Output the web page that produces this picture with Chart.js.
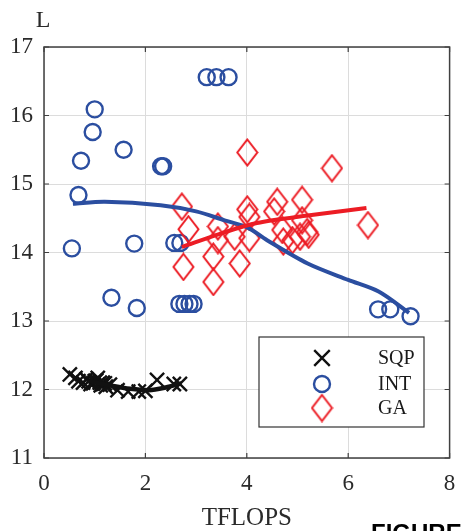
<!DOCTYPE html>
<html>
<head>
<meta charset="utf-8">
<script src="https://cdn.jsdelivr.net/npm/chart.js@4.4.0/dist/chart.umd.min.js"></script>
<style>
  html, body { margin: 0; padding: 0; background: #fff; }
  #wrap { width: 462px; height: 531px; position: relative; }
</style>
</head>
<body>
<div id="wrap"><canvas id="c" width="462" height="531"></canvas></div>
<script>
// Axis ticks
const xTicks = [0, 2, 4, 6, 8];
const yTicks = [11, 12, 13, 14, 15, 16, 17];

// SQP runs
const sqpX = [0.51, 0.62, 0.68, 0.77, 0.84, 0.88, 0.92, 0.97, 1.00, 1.03, 1.06, 1.10, 1.12, 1.16, 1.20, 1.22, 1.30, 1.45, 1.66, 1.87, 2.00, 2.23, 2.56, 2.68];
const sqpY = [12.22, 12.17, 12.12, 12.10, 12.15, 12.12, 12.08, 12.09, 12.12, 12.13, 12.17, 12.10, 12.06, 12.10, 12.09, 12.04, 12.07, 11.99, 11.97, 11.97, 11.98, 12.14, 12.08, 12.08];
const sqpFitX = [0.90, 1.30, 1.70, 2.07, 2.40, 2.71];
const sqpFitY = [12.12, 12.06, 12.01, 11.99, 12.03, 12.09];

// INT runs
const intX = [0.55, 0.68, 0.73, 0.96, 1.00, 1.57, 1.33, 1.78, 1.83, 2.31, 2.35, 2.57, 2.69, 2.67, 2.77, 2.87, 2.95, 3.21, 3.40, 3.64, 6.59, 6.83, 7.23];
const intY = [14.06, 14.84, 15.34, 15.76, 16.09, 15.50, 13.34, 14.13, 13.19, 15.26, 15.26, 14.14, 14.14, 13.25, 13.25, 13.25, 13.25, 16.56, 16.56, 16.56, 13.17, 13.17, 13.07];
const intFitX = [0.57, 1.20, 2.30, 3.00, 3.56, 4.00, 4.40, 5.20, 6.00, 6.60, 7.20];
const intFitY = [14.71, 14.74, 14.69, 14.60, 14.47, 14.37, 14.18, 13.84, 13.60, 13.43, 13.12];

// GA runs
const gaX = [2.72, 2.85, 2.75, 3.43, 3.43, 3.34, 3.34, 3.76, 3.86, 4.01, 4.01, 4.05, 4.05, 4.60, 4.54, 4.70, 4.72, 4.90, 5.09, 5.09, 5.19, 5.05, 5.22, 5.68, 6.39];
const gaY = [14.67, 14.34, 13.79, 14.38, 14.18, 13.94, 13.57, 14.23, 13.84, 15.46, 14.63, 14.52, 14.21, 14.74, 14.60, 14.33, 14.16, 14.18, 14.77, 14.47, 14.30, 14.23, 14.26, 15.23, 14.40];
const gaFitX = [2.72, 3.50, 4.20, 5.20, 6.36];
const gaFitY = [14.08, 14.28, 14.43, 14.54, 14.65];

const seriesNames = ['SQP', 'INT', 'GA'];

const BLUE = '#2b4ea0';
const RED = '#ec1c24';
const BLACK = '#111111';
const SERIF = '"Liberation Serif", "Times New Roman", serif';

const pts = (xs, ys) => xs.map((x, i) => ({ x, y: ys[i] }));

// Tall diamond marker
function makeDiamond(color) {
  const w = 23, h = 29;
  const cv = document.createElement('canvas');
  cv.width = w; cv.height = h;
  const g = cv.getContext('2d');
  g.strokeStyle = color;
  g.lineWidth = 2;
  g.lineJoin = 'miter';
  g.beginPath();
  g.moveTo(w / 2, 1.5);
  g.lineTo(w - 1.5, h / 2);
  g.lineTo(w / 2, h - 1.5);
  g.lineTo(1.5, h / 2);
  g.closePath();
  g.stroke();
  return cv;
}
const diamond = makeDiamond(RED);

const markerStyles = [
  { pointStyle: 'crossRot', radius: 10, borderColor: BLACK, borderWidth: 2.4 },
  { pointStyle: 'circle', radius: 8, borderColor: BLUE, borderWidth: 2.4 },
  { pointStyle: diamond, radius: 10, borderColor: RED, borderWidth: 2 }
];

const markerSet = (label, data, st, order) => ({
  label, data, showLine: false, order,
  pointStyle: st.pointStyle, pointRadius: st.radius, pointHoverRadius: st.radius,
  pointBorderColor: st.borderColor, pointBackgroundColor: 'rgba(0,0,0,0)',
  pointBorderWidth: st.borderWidth
});
const fitSet = (label, data, color, order, width) => ({
  label, data, showLine: true, order,
  borderColor: color, borderWidth: width, pointRadius: 0, tension: 0.3,
  borderCapStyle: 'butt', fill: false
});

// Axes box with inward ticks, axis labels and legend
const frame = {
  id: 'frame',
  afterDatasetsDraw(chart) {
    const { ctx, chartArea: a, scales: { x, y } } = chart;
    ctx.save();
    ctx.strokeStyle = '#404040';
    ctx.lineWidth = 1.5;
    ctx.strokeRect(a.left, a.top, a.right - a.left, a.bottom - a.top);
    ctx.lineWidth = 1.2;
    const tl = 5;
    ctx.beginPath();
    xTicks.forEach(v => {
      const px = x.getPixelForValue(v);
      ctx.moveTo(px, a.bottom); ctx.lineTo(px, a.bottom - tl);
      ctx.moveTo(px, a.top); ctx.lineTo(px, a.top + tl);
    });
    yTicks.forEach(v => {
      const py = y.getPixelForValue(v);
      ctx.moveTo(a.left, py); ctx.lineTo(a.left + tl, py);
      ctx.moveTo(a.right, py); ctx.lineTo(a.right - tl, py);
    });
    ctx.stroke();

    // y-axis label above the axis
    ctx.fillStyle = '#2a2a2a';
    ctx.font = '24px ' + SERIF;
    ctx.textAlign = 'center';
    ctx.textBaseline = 'middle';
    ctx.fillText('L', a.left - 1, a.top - 26);

    // legend
    const bx = a.left + 215, by = a.top + 290, bw = 165, bh = 90;
    ctx.fillStyle = '#ffffff';
    ctx.fillRect(bx, by, bw, bh);
    ctx.strokeStyle = '#333333';
    ctx.lineWidth = 1.2;
    ctx.strokeRect(bx, by, bw, bh);
    const rows = [21, 47, 71];
    seriesNames.forEach((name, i) => {
      const st = markerStyles[i];
      const cy = by + rows[i];
      ctx.save();
      ctx.strokeStyle = st.borderColor;
      ctx.fillStyle = 'rgba(0,0,0,0)';
      ctx.lineWidth = st.borderWidth;
      Chart.helpers.drawPoint(ctx, {
        pointStyle: st.pointStyle, radius: st.radius + (i === 0 ? 1 : 0),
        borderWidth: st.borderWidth, rotation: 0
      }, bx + 63, cy);
      ctx.restore();
      ctx.fillStyle = '#1a1a1a';
      ctx.font = '20px ' + SERIF;
      ctx.textAlign = 'left';
      ctx.textBaseline = 'middle';
      ctx.fillText(name, bx + 119, cy + 1);
    });
    ctx.restore();
  },
  afterDraw(chart) {
    const { ctx } = chart;
    ctx.save();
    ctx.fillStyle = '#000';
    ctx.font = 'bold 24px "Liberation Sans", Arial, sans-serif';
    ctx.textAlign = 'left';
    ctx.textBaseline = 'alphabetic';
    ctx.fillText('FIGURE', 371, 541);
    ctx.restore();
  }
};

new Chart(document.getElementById('c'), {
  type: 'scatter',
  data: {
    datasets: [
      fitSet('GA fit', pts(gaFitX, gaFitY), RED, 1, 4),
      fitSet('INT fit', pts(intFitX, intFitY), BLUE, 2, 4),
      fitSet('SQP fit', pts(sqpFitX, sqpFitY), BLACK, 3, 4.5),
      markerSet('GA', pts(gaX, gaY), markerStyles[2], 4),
      markerSet('INT', pts(intX, intY), markerStyles[1], 5),
      markerSet('SQP', pts(sqpX, sqpY), markerStyles[0], 6)
    ]
  },
  options: {
    responsive: false,
    animation: false,
    devicePixelRatio: 1,
    layout: { padding: { top: 47, right: 8, left: 0, bottom: 0 } },
    plugins: { legend: { display: false }, tooltip: { enabled: false }, title: { display: false } },
    scales: {
      x: {
        type: 'linear', min: 0, max: 8,
        afterFit: s => { s.height = 73; s.paddingLeft = 0; s.paddingRight = 0; },
        afterBuildTicks: s => { s.ticks = xTicks.map(v => ({ value: v })); },
        ticks: { color: '#2a2a2a', padding: 12, maxRotation: 0, font: { family: SERIF, size: 23 } },
        grid: { color: '#dcdcdc', lineWidth: 1, drawTicks: false },
        border: { display: false },
        title: { display: true, text: 'TFLOPS', color: '#2a2a2a', padding: 0, font: { family: SERIF, size: 25, lineHeight: 1 } }
      },
      y: {
        type: 'linear', min: 11, max: 17,
        afterFit: s => { s.width = 44; s.paddingTop = 0; s.paddingBottom = 0; },
        afterBuildTicks: s => { s.ticks = yTicks.map(v => ({ value: v })); },
        ticks: { color: '#2a2a2a', padding: 11, font: { family: SERIF, size: 23 } },
        grid: { color: '#dcdcdc', lineWidth: 1, drawTicks: false },
        border: { display: false }
      }
    }
  },
  plugins: [frame]
});
</script>
</body>
</html>
